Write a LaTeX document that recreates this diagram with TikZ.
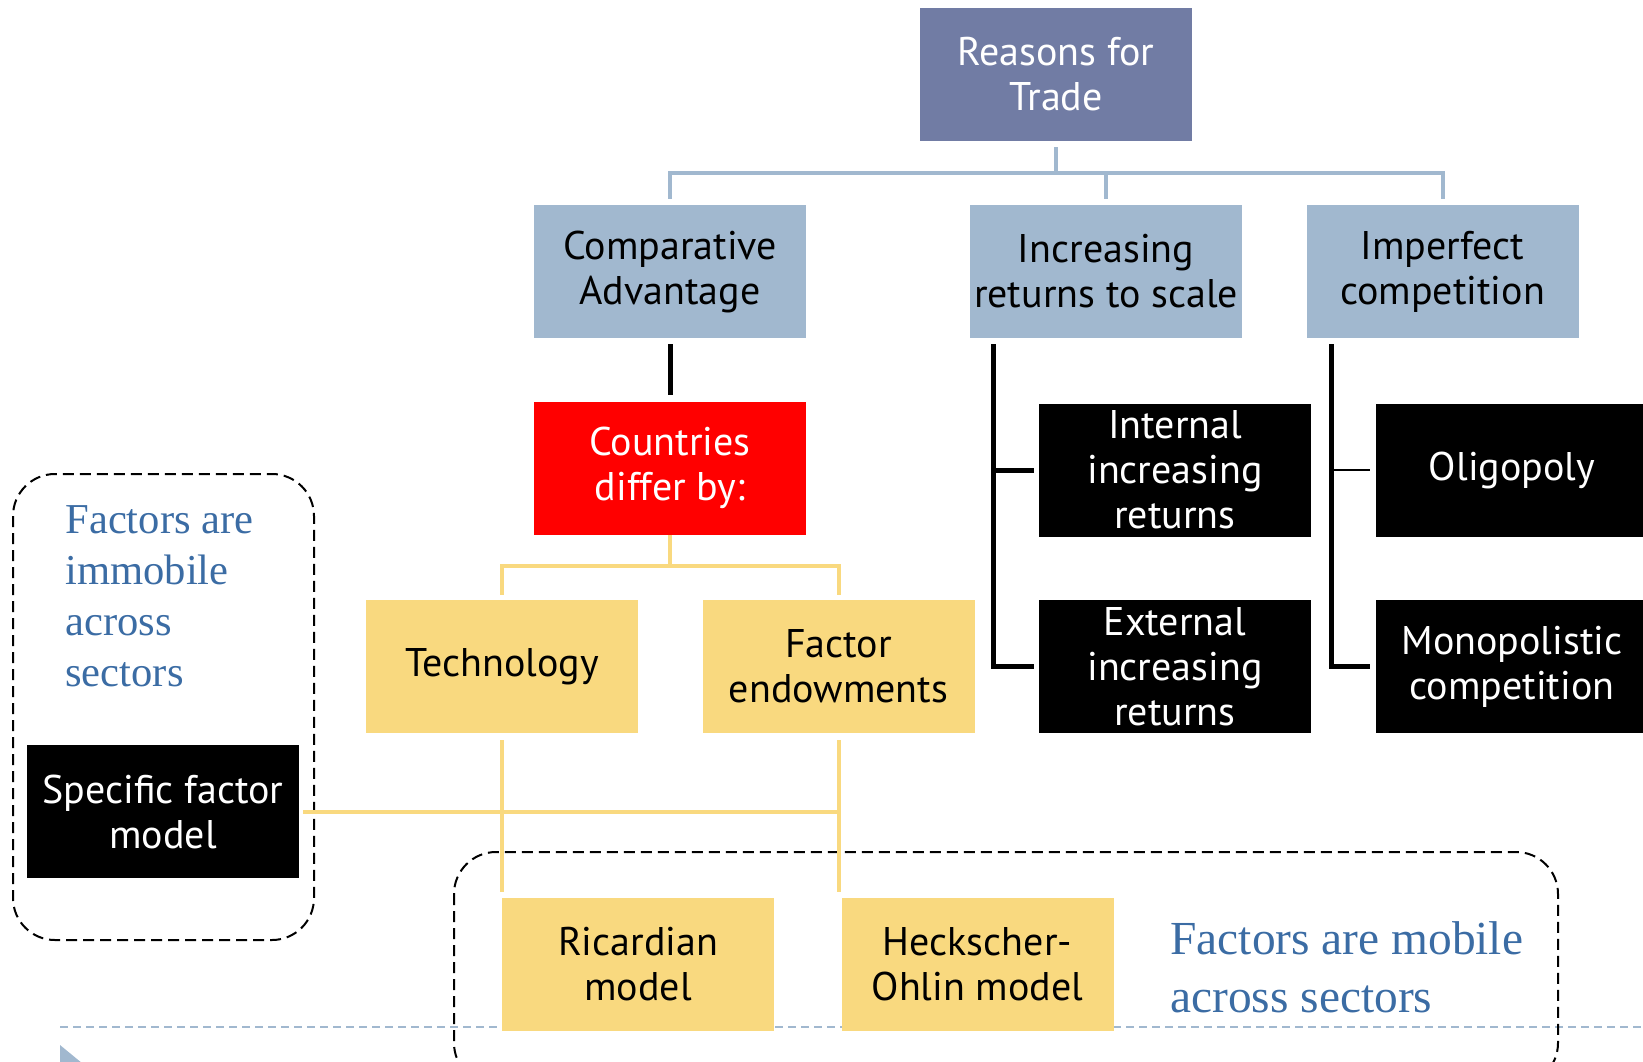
\documentclass[tikz,border=0pt]{standalone}
\usepackage{fontspec}
\setmainfont{PT Sans}
\newfontfamily\timesfont{Liberation Serif}
\usepackage{tikz}
\usetikzlibrary{positioning}
\definecolor{slate}{RGB}{113,124,164}
\definecolor{steel}{RGB}{161,184,207}
\definecolor{sand}{RGB}{249,217,127}
\definecolor{ink}{RGB}{59,108,164}
\tikzstyle{cell} = [rectangle, minimum width=136pt, minimum height=66.5pt, inner sep=0pt, align=center, font=\fontsize{20}{22.5}\selectfont]
\tikzstyle{rootbox} = [cell, fill=slate, text=white]
\tikzstyle{causebox} = [cell, fill=steel]
\tikzstyle{redbox} = [cell, fill=red, text=white]
\tikzstyle{blackbox} = [cell, fill=black, text=white]
\tikzstyle{goldbox} = [cell, fill=sand]
\tikzstyle{notetext} = [align=left, text=ink, inner sep=0pt, anchor=west]
\tikzstyle{groupframe} = [draw, line width=1pt, rounded corners=21pt, dash pattern=on 5.5pt off 3pt]
\tikzstyle{steelline} = [draw=steel, line width=2pt]
\tikzstyle{thickline} = [draw=black, line width=2.5pt]
\tikzstyle{thinline} = [draw=black, line width=0.75pt]
\tikzstyle{goldline} = [draw=sand, line width=2pt]

\begin{document}
\begin{tikzpicture}[x=0.5pt,y=-0.5pt,node distance=31.5pt]
  \useasboundingbox (0,0) rectangle (1643,1061);
  \draw[steel, line width=1pt, dash pattern=on 4pt off 2.5pt] (60,1027) -- (1643,1027);
  \fill[steel] (60,1045) -- (60,1091) -- (88,1068) -- cycle;

  \node[rootbox] (reasons) at (1056,74.5) {Reasons for\\Trade};
  \node[causebox] (comp) at (670,271.5) {Comparative\\Advantage};
  \node[causebox] (incr) at (1106,271.5) {Increasing\\returns to scale};
  \node[causebox] (imperf) at (1442.5,271.5) {Imperfect\\competition};
  \node[redbox] (differ) [below=of comp] {Countries\\differ by:};
  \node[blackbox] (internal) at (1175,470) {Internal\\increasing\\returns};
  \node[blackbox] (oligo) at (1512,470) {Oligopoly};
  \node[blackbox] (external) [below=of internal] {External\\increasing\\returns};
  \node[blackbox] (monop) [below=of oligo] {Monopolistic\\competition};
  \node[goldbox] (tech) at (502,666.5) {Technology};
  \node[goldbox] (endow) at (838.5,666.5) {Factor\\endowments};
  \node[blackbox] (specific) at (163,811.5) {Specific factor\\model};
  \node[goldbox] (ricardo) at (638,964.5) {Ricardian\\model};
  \node[goldbox] (hecksch) at (977.5,964.5) {Heckscher-\\Ohlin model};

  \node[notetext, font=\timesfont\fontsize{21.3}{25.5}\selectfont] (immobile) at (65,596) {Factors are\\immobile\\across\\sectors};
  \node[notetext, font=\timesfont\fontsize{23.7}{29}\selectfont] (mobile) at (1170,967) {Factors are mobile\\across sectors};

  \draw[groupframe] (13,474) rectangle (314,940);
  \draw[groupframe] (454,852) rectangle (1558,1085);

  \coordinate (split) at (1056,173);
  \path[steelline] (reasons.south) edge[shorten <=3pt] (split);
  \draw[steelline, shorten <=3pt, shorten >=3pt] (comp.north) |- (split) -| (imperf.north);
  \draw[steelline, shorten <=3pt] (incr.north) -- (incr.north |- split);

  \draw[thickline, shorten <=3pt, shorten >=3pt] (comp.south) -- (differ.north);
  \coordinate (irs) at ([xshift=12pt,yshift=-3pt]incr.south west);
  \draw[thickline] (irs) |- ([xshift=-2.5pt]external.west);
  \draw[thickline] (irs |- internal.west) -- ([xshift=-2.5pt]internal.west);
  \coordinate (imc) at ([xshift=12.5pt,yshift=-3pt]imperf.south west);
  \draw[thickline] (imc) |- ([xshift=-3pt]monop.west);
  \draw[thinline] (imc |- oligo.west) -- ([xshift=-3pt]oligo.west);

  \coordinate (fork) at ([yshift=-15.5pt]differ.south);
  \draw[goldline] (differ.south) -- (fork);
  \draw[goldline, shorten <=2.5pt, shorten >=2.5pt] (tech.north) |- (fork) -| (endow.north);
  \draw[goldline, shorten <=3.5pt, shorten >=3pt] (tech.south) -- (tech.south |- ricardo.north);
  \draw[goldline, shorten <=3.5pt, shorten >=3pt] (endow.south) -- (endow.south |- hecksch.north);
  \draw[goldline, shorten <=2pt] (specific.east) -- (specific.east -| endow.south);
\end{tikzpicture}
\end{document}
